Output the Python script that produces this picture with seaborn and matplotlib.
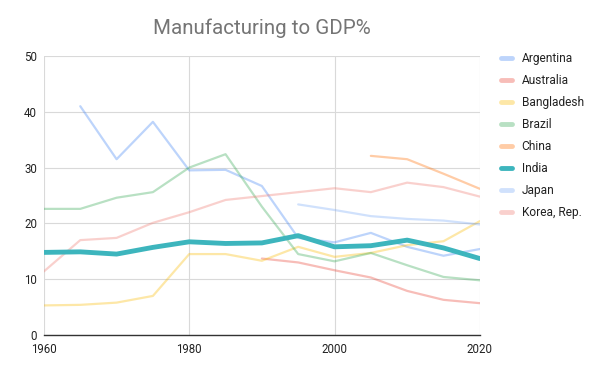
import numpy as np
import pandas as pd
import seaborn as sns
import matplotlib.pyplot as plt

years = list(range(1960, 2021, 5))
nan = np.nan
argentina = [nan, 41.0, 31.5, 38.2, 29.5, 29.6, 26.7, 17.4, 16.6, 18.3, 15.8, 14.2, 15.4]
australia = [nan, nan, nan, nan, nan, nan, 13.7, 13.0, 11.6, 10.3, 7.9, 6.3, 5.7]
bangladesh = [5.3, 5.4, 5.8, 7.0, 14.5, 14.5, 13.3, 15.8, 14.0, 14.7, 16.1, 16.8, 20.4]
brazil = [22.6, 22.6, 24.6, 25.6, 30.0, 32.4, 23.0, 14.5, 13.2, 14.7, 12.5, 10.4, 9.8]
china = [nan, nan, nan, nan, nan, nan, nan, nan, nan, 32.1, 31.5, 28.9, 26.2]
india = [14.8, 14.9, 14.5, 15.7, 16.7, 16.4, 16.5, 17.8, 15.8, 16.0, 17.0, 15.6, 13.7]
japan = [nan, nan, nan, nan, nan, nan, nan, 23.4, 22.4, 21.3, 20.8, 20.5, 19.8]
korea = [11.4, 17.0, 17.4, 20.1, 22.0, 24.2, 24.9, 25.6, 26.3, 25.6, 27.3, 26.5, 24.8]

countries = ["Argentina", "Australia", "Bangladesh", "Brazil", "China", "India", "Japan", "Korea, Rep."]
series = [argentina, australia, bangladesh, brazil, china, india, japan, korea]
colors = ["#4285f4", "#ea4335", "#fbbc04", "#34a853", "#ff6d01", "#46bdc6", "#7baaf7", "#f07b72"]

rows = []
for name, vals in zip(countries, series):
    for y, v in zip(years, vals):
        rows.append({"Year": y, "Country": name, "Value": v})
df = pd.DataFrame(rows).dropna()

sns.set_style("white")
plt.rcParams['font.family'] = ['Roboto', 'DejaVu Sans']

fig = plt.figure(figsize=(6.02, 3.72), dpi=100)
ax = fig.add_axes([0.073, 0.0995, 0.724, 0.750])

for name, col in zip(countries, colors):
    sub = df[df["Country"] == name]
    if name == "India":
        sns.lineplot(data=sub, x="Year", y="Value", color="#3db5bd", linewidth=3.5, ax=ax, zorder=5)
    else:
        sns.lineplot(data=sub, x="Year", y="Value", color=col, linewidth=1.6, alpha=0.35, ax=ax)

ax.set_xlim(1960, 2020)
ax.set_ylim(0, 50)
ax.set_xticks([1960, 1980, 2000, 2020])
ax.set_yticks([0, 10, 20, 30, 40, 50])
ax.grid(True, color="#d9d9d9", linewidth=0.8)
ax.set_axisbelow(True)
for s in ["top", "right", "left"]:
    ax.spines[s].set_visible(False)
ax.spines["bottom"].set_color("#333333")
ax.spines["bottom"].set_linewidth(1.0)
ax.tick_params(axis="both", length=0, labelsize=8.3, colors="#222222")
ax.tick_params(axis="x", pad=6)
ax.tick_params(axis="y", pad=5)
ax.set_xlabel("")
ax.set_ylabel("")
ax.set_title("Manufacturing to GDP%", fontsize=14.8, color="#757575", pad=16)

handles = []
for name, col in zip(countries, colors):
    if name == "India":
        h, = ax.plot([], [], color="#3db5bd", linewidth=3.5)
    else:
        h, = ax.plot([], [], color=col, linewidth=3.5, alpha=0.35)
    handles.append(h)
leg = fig.legend(handles, countries, loc="upper left", bbox_to_anchor=(0.815, 0.888),
                 frameon=False, fontsize=8.6, handlelength=0.9, labelspacing=0.75,
                 handletextpad=0.8, labelcolor="#222222")

fig.savefig("out.png", dpi=100)
